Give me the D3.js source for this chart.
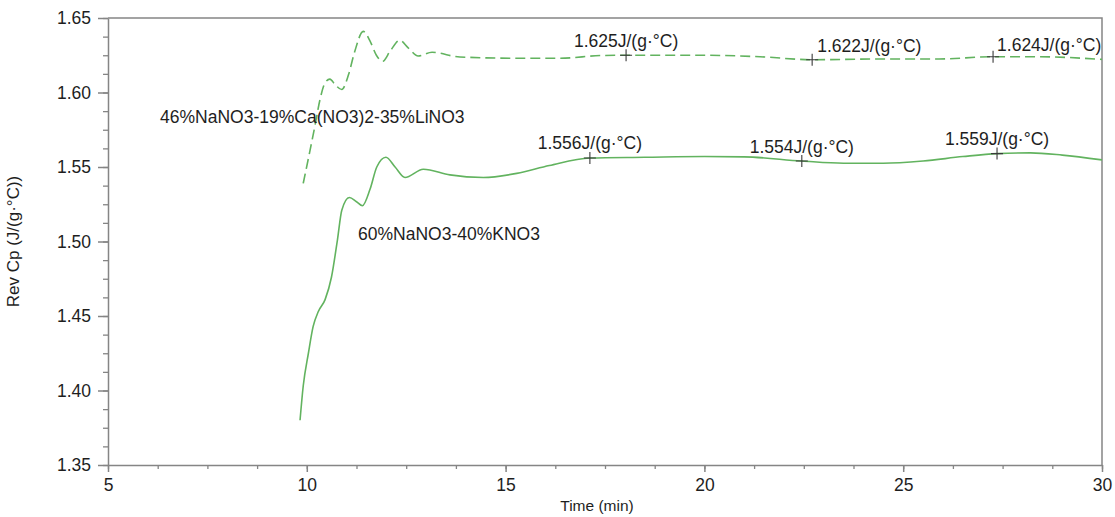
<!DOCTYPE html>
<html>
<head>
<meta charset="utf-8">
<script src="https://cdn.jsdelivr.net/npm/d3@7"></script>
<style>
  body { margin: 0; background: #fff; }
  text { font-family: "Liberation Sans", Arial, sans-serif; fill: #1e1e1e; }
</style>
</head>
<body>
<script>
// chart data
const xTicks = [5, 10, 15, 20, 25, 30];
const yTicks = [1.35, 1.40, 1.45, 1.50, 1.55, 1.60, 1.65];

// 46%NaNO3-19%Ca(NO3)2-35%LiNO3 (dashed)
const ternaryTime = [9.91, 10.08, 10.2, 10.33, 10.45, 10.58, 10.72, 10.88, 11.05, 11.2, 11.42, 11.6, 11.75, 11.91, 12.1, 12.34, 12.55, 12.8, 13.15, 13.85, 15.36, 16.37, 17.4, 18.03, 19.9, 21.4, 22.71, 24.4, 25.9, 27.26, 28.4, 30];
const ternaryCp = [1.539, 1.561, 1.577, 1.595, 1.606, 1.609, 1.605, 1.602, 1.612, 1.627, 1.641, 1.634, 1.625, 1.621, 1.628, 1.635, 1.630, 1.6245, 1.627, 1.6238, 1.623, 1.623, 1.6248, 1.625, 1.625, 1.624, 1.622, 1.6225, 1.6225, 1.624, 1.624, 1.6222];

// 60%NaNO3-40%KNO3 (solid)
const binaryTime = [9.83, 9.91, 10.04, 10.16, 10.29, 10.46, 10.62, 10.77, 10.88, 11.07, 11.25, 11.4, 11.59, 11.76, 11.99, 12.22, 12.47, 12.93, 13.6, 14.44, 15.28, 16.1, 17.12, 18.5, 20, 21, 22.45, 23.5, 24.5, 25.5, 26.5, 27.36, 28.2, 29, 30];
const binaryCp = [1.380, 1.403, 1.425, 1.443, 1.453, 1.461, 1.476, 1.501, 1.521, 1.5295, 1.5267, 1.524, 1.535, 1.550, 1.5565, 1.550, 1.543, 1.5485, 1.5447, 1.543, 1.5457, 1.551, 1.556, 1.5565, 1.557, 1.5568, 1.554, 1.5525, 1.5525, 1.554, 1.557, 1.559, 1.5595, 1.558, 1.5548];

// marked points
const markTime = [18.03, 22.71, 27.26, 17.12, 22.45, 27.36];
const markCp = [1.625, 1.622, 1.624, 1.556, 1.554, 1.559];
const markLabel = ["1.625J/(g·°C)", "1.622J/(g·°C)", "1.624J/(g·°C)", "1.556J/(g·°C)", "1.554J/(g·°C)", "1.559J/(g·°C)"];

const seriesNames = ["46%NaNO3-19%Ca(NO3)2-35%LiNO3", "60%NaNO3-40%KNO3"];

const margin = { top: 18, right: 13, bottom: 52, left: 108 };
const width = 1115 - margin.left - margin.right;
const height = 517 - margin.top - margin.bottom;
const axisColor = "#858585";
const lineColor = "#62b35f";

const svg = d3.select("body").append("svg")
    .attr("width", 1115)
    .attr("height", 517)
  .append("g")
    .attr("transform", `translate(${margin.left},${margin.top})`);

const x = d3.scaleLinear().domain([5, 30]).range([0, width]);
const y = d3.scaleLinear().domain([1.35, 1.65]).range([height, 0]);

// frame (top and right)
svg.append("path")
  .attr("d", `M0,0H${width}V${height}`)
  .attr("fill", "none")
  .attr("stroke", axisColor)
  .attr("stroke-width", 1.5);

// minor ticks
const xMinor = d3.range(5, 30.01, 1.25);
const yMinor = d3.range(1.35, 1.6501, 0.0125);
svg.append("g")
  .attr("transform", `translate(0,${height})`)
  .call(d3.axisBottom(x).tickValues(xMinor).tickSize(4).tickFormat(""))
  .call(g => g.select(".domain").remove())
  .selectAll("line").attr("stroke", axisColor).attr("stroke-width", 1.3);
svg.append("g")
  .call(d3.axisLeft(y).tickValues(yMinor).tickSize(5).tickFormat(""))
  .call(g => g.select(".domain").remove())
  .selectAll("line").attr("stroke", axisColor).attr("stroke-width", 1.3);

// major axes
const xAxis = svg.append("g")
  .attr("transform", `translate(0,${height})`)
  .call(d3.axisBottom(x).tickValues(xTicks).tickSize(7).tickSizeOuter(0).tickPadding(7).tickFormat(d3.format("d")));
const yAxis = svg.append("g")
  .call(d3.axisLeft(y).tickValues(yTicks).tickSize(10).tickSizeOuter(0).tickPadding(7).tickFormat(d3.format(".2f")));

[xAxis, yAxis].forEach(a => {
  a.select(".domain").attr("stroke", axisColor).attr("stroke-width", 1.5);
  a.selectAll(".tick line").attr("stroke", axisColor).attr("stroke-width", 1.5);
  a.selectAll(".tick text")
    .attr("fill", "#1e1e1e")
    .style("font-family", "'Liberation Sans', Arial, sans-serif")
    .style("font-size", "17.5px");
});

// axis titles
svg.append("text")
  .attr("x", x(17.5) - 8)
  .attr("y", height + 46)
  .attr("text-anchor", "middle")
  .style("font-size", "15.5px")
  .text("Time (min)");

svg.append("text")
  .attr("transform", `translate(${-89},${height / 2}) rotate(-90)`)
  .attr("text-anchor", "middle")
  .style("font-size", "17px")
  .text("Rev Cp (J/(g·°C))");

// curves
const line = d3.line()
  .x(d => x(d[0]))
  .y(d => y(d[1]))
  .curve(d3.curveMonotoneX);

const ternary = ternaryTime.map((t, i) => [t, ternaryCp[i]]);
const binary = binaryTime.map((t, i) => [t, binaryCp[i]]);

svg.append("path")
  .datum(ternary)
  .attr("d", line)
  .attr("fill", "none")
  .attr("stroke", lineColor)
  .attr("stroke-width", 1.6)
  .attr("stroke-dasharray", "10,5");

svg.append("path")
  .datum(binary)
  .attr("d", line)
  .attr("fill", "none")
  .attr("stroke", lineColor)
  .attr("stroke-width", 1.6);

// cross markers and their labels
const labelDx = [0, 5, 4, 0, 0, 0];
const labelAnchor = ["middle", "start", "start", "middle", "middle", "middle"];
const labelDy = [-8, -8, -6, -9, -8, -9];

const marks = svg.selectAll(".mark")
  .data(markTime.map((t, i) => ({ t, v: markCp[i], label: markLabel[i], i })))
  .enter().append("g")
  .attr("class", "mark")
  .attr("transform", d => `translate(${x(d.t)},${y(d.v)})`);

marks.append("path")
  .attr("d", "M-6,0H6M0,-6V6")
  .attr("stroke", "#3a3a3a")
  .attr("stroke-width", 1.1);

marks.append("text")
  .attr("x", d => labelDx[d.i])
  .attr("y", d => labelDy[d.i])
  .attr("text-anchor", d => labelAnchor[d.i])
  .style("font-size", "17.5px")
  .text(d => d.label);

// series labels
svg.append("text")
  .attr("x", x(6.31))
  .attr("y", y(1.5795))
  .style("font-size", "17.5px")
  .text(seriesNames[0]);

svg.append("text")
  .attr("x", x(11.29))
  .attr("y", y(1.501))
  .style("font-size", "17.5px")
  .text(seriesNames[1]);
</script>
</body>
</html>
